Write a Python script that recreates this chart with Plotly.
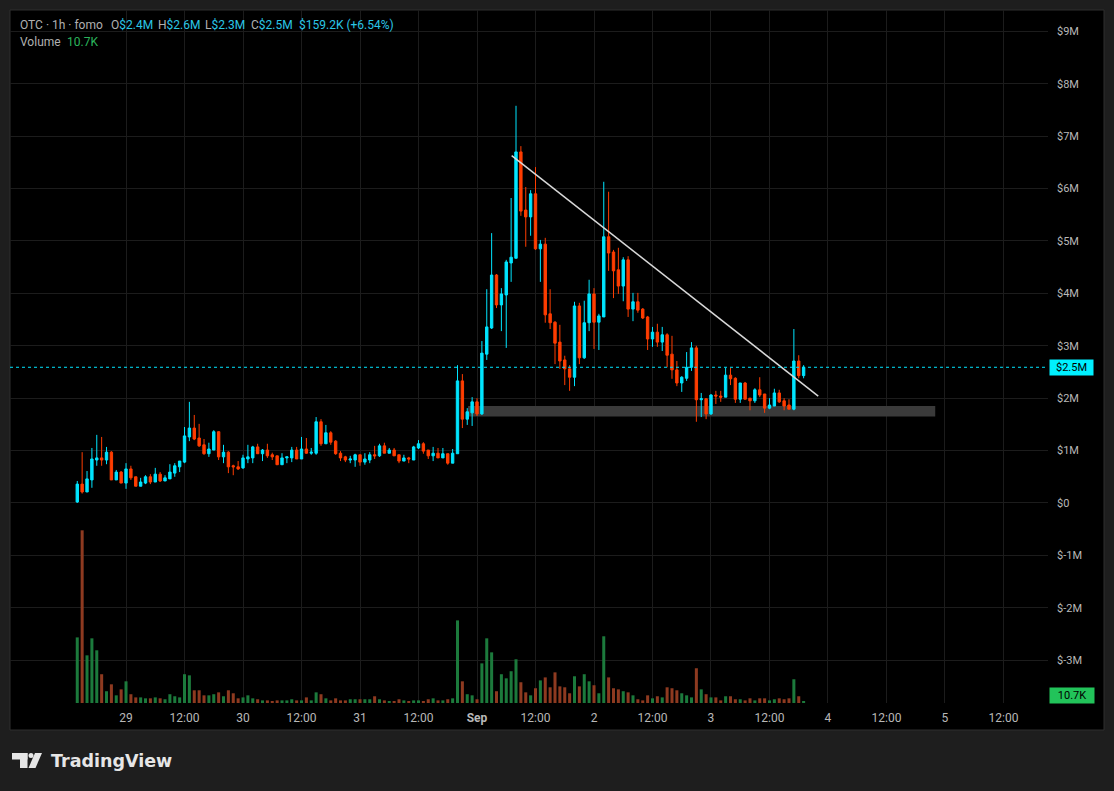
import pandas as pd
import plotly.graph_objects as go

# ---------------- data (values in $M, volume in K) ----------------
start_time = "2024-08-28 14:00"
open_ = [0.02, 0.36, 0.21, 0.44, 0.82, 0.86, 0.82, 0.97, 0.44, 0.59,
         0.38, 0.65, 0.50, 0.32, 0.38, 0.50, 0.40, 0.55, 0.42, 0.46,
         0.57, 0.69, 0.78, 1.26, 1.43, 1.24, 1.11, 0.94, 1.01, 1.36,
         0.88, 0.97, 0.71, 0.69, 0.67, 0.84, 0.86, 1.07, 0.94, 1.01,
         0.92, 0.90, 0.73, 0.86, 0.86, 1.01, 0.84, 1.03, 0.95, 0.95,
         1.55, 1.13, 1.34, 1.18, 0.95, 0.88, 0.82, 0.82, 0.92, 0.78,
         0.82, 0.92, 0.90, 1.09, 0.95, 1.01, 0.92, 0.80, 0.86, 0.82,
         1.05, 1.13, 1.01, 0.90, 0.95, 0.86, 0.94, 0.76, 0.94, 2.33,
         1.60, 1.72, 1.93, 1.70, 2.84, 3.34, 4.35, 3.78, 3.97, 4.58,
         4.67, 6.70, 5.59, 5.46, 5.90, 4.85, 4.94, 3.61, 3.45, 3.07,
         2.73, 2.56, 2.40, 3.76, 2.77, 3.44, 3.99, 3.45, 3.55, 5.08,
         4.79, 4.45, 4.14, 4.64, 3.70, 3.84, 3.70, 3.55, 3.13, 3.26,
         3.07, 3.21, 2.84, 2.54, 2.29, 2.38, 2.59, 2.96, 1.97, 1.99,
         1.70, 2.06, 2.04, 2.02, 2.44, 2.38, 1.98, 2.29, 2.00, 1.95,
         2.16, 2.08, 1.81, 1.85, 2.10, 1.95, 1.87, 1.79, 2.71, 2.43]
high_ = [0.42, 0.97, 0.61, 1.05, 1.30, 1.26, 1.07, 0.99, 0.63, 0.61,
         0.76, 0.71, 0.50, 0.48, 0.53, 0.55, 0.67, 0.59, 0.53, 0.74,
         0.76, 0.80, 1.45, 1.93, 1.68, 1.51, 1.22, 1.15, 1.39, 1.37,
         1.11, 0.99, 0.73, 0.80, 0.92, 1.11, 1.09, 1.13, 1.03, 1.13,
         0.96, 0.90, 0.95, 0.88, 1.07, 1.07, 1.26, 1.24, 1.05, 1.64,
         1.60, 1.49, 1.37, 1.20, 0.99, 0.90, 0.90, 0.94, 0.92, 0.95,
         0.97, 1.09, 1.13, 1.15, 1.05, 1.05, 0.92, 0.92, 0.88, 1.09,
         1.20, 1.16, 1.01, 1.07, 1.05, 1.05, 0.94, 1.03, 2.63, 2.46,
         1.81, 2.02, 2.00, 3.09, 4.08, 5.15, 4.37, 4.10, 4.64, 5.82,
         7.58, 6.81, 6.03, 5.97, 6.41, 5.02, 5.06, 4.08, 3.47, 3.40,
         2.81, 2.63, 3.84, 3.82, 3.86, 4.26, 4.10, 3.61, 6.13, 5.94,
         4.83, 4.87, 4.69, 4.71, 4.01, 4.01, 3.72, 3.57, 3.36, 3.42,
         3.36, 3.24, 3.19, 2.71, 2.42, 2.88, 3.07, 3.00, 2.10, 1.99,
         2.08, 2.14, 2.14, 2.58, 2.58, 2.40, 2.29, 2.31, 2.00, 2.19,
         2.40, 2.08, 2.00, 2.18, 2.16, 2.00, 1.98, 3.32, 2.82, 2.63]
low_ = [0.00, 0.18, 0.21, 0.29, 0.71, 0.71, 0.74, 0.44, 0.44, 0.38,
        0.27, 0.44, 0.32, 0.32, 0.36, 0.36, 0.40, 0.40, 0.42, 0.46,
        0.50, 0.59, 0.76, 1.18, 1.20, 1.07, 0.92, 0.88, 1.01, 0.82,
        0.76, 0.57, 0.53, 0.63, 0.65, 0.76, 0.76, 0.94, 0.80, 0.86,
        0.82, 0.73, 0.73, 0.76, 0.78, 0.84, 0.84, 0.94, 0.92, 0.92,
        1.09, 1.13, 1.11, 0.92, 0.80, 0.78, 0.76, 0.69, 0.71, 0.73,
        0.76, 0.84, 0.88, 0.95, 0.95, 0.90, 0.76, 0.80, 0.76, 0.82,
        1.03, 0.94, 0.84, 0.80, 0.86, 0.86, 0.73, 0.76, 0.94, 1.43,
        1.49, 1.47, 1.66, 1.68, 2.73, 3.32, 3.72, 3.28, 2.96, 4.22,
        4.67, 5.48, 4.89, 5.10, 4.83, 4.22, 3.44, 3.32, 2.65, 2.56,
        2.25, 2.14, 2.23, 2.65, 2.75, 3.28, 2.94, 2.92, 3.55, 4.43,
        3.91, 3.99, 3.85, 3.55, 3.47, 3.63, 3.51, 2.92, 2.98, 2.98,
        2.90, 2.59, 2.37, 2.23, 2.12, 2.33, 2.52, 1.55, 1.64, 1.60,
        1.68, 1.89, 1.93, 2.02, 2.25, 1.91, 1.91, 1.98, 1.77, 1.91,
        2.02, 1.72, 1.79, 1.85, 1.91, 1.77, 1.79, 1.77, 2.38, 2.38]
close_ = [0.36, 0.21, 0.46, 0.84, 0.86, 0.82, 0.97, 0.44, 0.59, 0.38,
          0.65, 0.48, 0.32, 0.40, 0.50, 0.40, 0.55, 0.42, 0.48, 0.59,
          0.71, 0.80, 1.28, 1.43, 1.22, 1.09, 0.94, 1.03, 1.36, 0.88,
          0.97, 0.69, 0.69, 0.65, 0.86, 0.88, 1.07, 0.94, 1.01, 0.90,
          0.88, 0.73, 0.86, 0.88, 1.01, 0.84, 1.03, 0.95, 0.97, 1.55,
          1.13, 1.34, 1.16, 0.94, 0.86, 0.82, 0.84, 0.92, 0.78, 0.84,
          0.92, 0.90, 1.09, 0.95, 1.01, 0.90, 0.80, 0.86, 0.84, 1.07,
          1.13, 0.99, 0.90, 0.95, 0.86, 0.94, 0.76, 0.95, 2.33, 1.60,
          1.74, 1.93, 1.70, 2.86, 3.36, 4.35, 3.78, 3.99, 4.60, 4.69,
          6.70, 5.57, 5.46, 5.90, 4.85, 4.94, 3.59, 3.44, 3.05, 2.71,
          2.56, 2.40, 3.76, 2.77, 3.44, 3.99, 3.45, 3.57, 5.08, 4.77,
          4.43, 4.14, 4.64, 3.70, 3.84, 3.68, 3.53, 3.13, 3.26, 3.07,
          3.21, 2.82, 2.54, 2.29, 2.40, 2.59, 2.96, 1.97, 1.99, 1.70,
          2.06, 2.04, 2.02, 2.44, 2.37, 1.98, 2.29, 1.98, 1.95, 2.16,
          2.06, 1.81, 1.87, 2.10, 1.93, 1.85, 1.79, 2.71, 2.43, 2.59]
volume_k = [351, 924, 255, 346, 282, 154, 63, 100, 41, 73,
            116, 47, 30, 30, 25, 25, 30, 25, 20, 47,
            36, 30, 154, 148, 68, 68, 41, 41, 47, 57,
            36, 68, 52, 25, 30, 41, 25, 20, 14, 14,
            9, 14, 14, 14, 20, 14, 14, 30, 14, 57,
            47, 25, 14, 25, 14, 14, 20, 20, 20, 20,
            20, 36, 20, 14, 9, 9, 20, 14, 9, 14,
            14, 9, 20, 25, 14, 14, 20, 25, 442, 116,
            47, 41, 20, 212, 346, 271, 63, 154, 132, 170,
            234, 111, 57, 41, 79, 121, 137, 84, 164, 89,
            84, 52, 143, 89, 154, 116, 95, 52, 357, 137,
            79, 73, 63, 57, 41, 20, 14, 41, 25, 36,
            30, 84, 79, 68, 52, 41, 30, 186, 73, 47,
            30, 30, 14, 36, 36, 20, 20, 14, 25, 14,
            25, 25, 14, 20, 25, 20, 25, 127, 36, 10.7]

y_tick_values = [9, 8, 7, 6, 5, 4, 3, 2, 1, 0, -1, -2, -3]
y_tick_labels = ["$9M", "$8M", "$7M", "$6M", "$5M", "$4M", "$3M", "$2M", "$1M",
                 "$0", "$-1M", "$-2M", "$-3M"]
x_tick_values = ["2024-08-29 00:00", "2024-08-29 12:00", "2024-08-30 00:00",
                 "2024-08-30 12:00", "2024-08-31 00:00", "2024-08-31 12:00",
                 "2024-09-01 00:00", "2024-09-01 12:00", "2024-09-02 00:00",
                 "2024-09-02 12:00", "2024-09-03 00:00", "2024-09-03 12:00",
                 "2024-09-04 00:00", "2024-09-04 12:00", "2024-09-05 00:00",
                 "2024-09-05 12:00"]
x_tick_labels = ["29", "12:00", "30", "12:00", "31", "12:00", "<b>Sep</b>", "12:00",
                 "2", "12:00", "3", "12:00", "4", "12:00", "5", "12:00"]

# user drawings
trend_x = ["2024-09-01 07:07", "2024-09-03 22:00"]
trend_y = [6.63, 2.04]
zone_x = ["2024-08-31 22:10", "2024-09-04 22:00"]
zone_y = [1.65, 1.85]

header_values = {"O": "$2.4M", "H": "$2.6M", "L": "$2.3M", "C": "$2.5M"}
header_change = "$159.2K (+6.54%)"
volume_label = "10.7K"
price_label = "$2.5M"

# ---------------- styling ----------------
UP = "#00e5ff"
DOWN = "#ff3d00"
VOL_UP = "#1c7a3c"
VOL_DOWN = "#8e3a20"
GRID = "#1c1c1c"
TXT = "#b8b8b8"
FONT = "Roboto"

times = pd.date_range(start_time, periods=len(open_), freq="h")
vol_colors = [VOL_UP if c >= o else VOL_DOWN for o, c in zip(open_, close_)]

W, H = 1114, 791
L, R, T, B = 10, 1048, 10, 703


def px(x):
    return (x - L) / (R - L)


def py(y):
    return (B - y) / (B - T)


fig = go.Figure()

fig.add_trace(go.Bar(
    x=times, y=volume_k, marker_color=vol_colors, marker_line_width=0,
    width=0.62 * 3600 * 1000, yaxis="y2", hoverinfo="skip", showlegend=False))

fig.add_trace(go.Candlestick(
    x=times, open=open_, high=high_, low=low_, close=close_,
    increasing=dict(line=dict(color=UP, width=1), fillcolor=UP),
    decreasing=dict(line=dict(color=DOWN, width=1), fillcolor=DOWN),
    whiskerwidth=0, showlegend=False))

fig.add_trace(go.Scatter(
    x=trend_x, y=trend_y, mode="lines", line=dict(color="#d9d9d9", width=1.5),
    hoverinfo="skip", showlegend=False))

shapes = [
    # dark panel
    dict(type="rect", xref="paper", yref="paper", x0=px(10), x1=px(1104),
         y0=py(730), y1=py(10), fillcolor="#000000",
         line=dict(color="#2e2e2e", width=1), layer="below"),
    # support zone
    dict(type="rect", xref="x", yref="y", x0=zone_x[0], x1=zone_x[1],
         y0=zone_y[0], y1=zone_y[1], fillcolor="#3a3a3a", line=dict(width=0),
         layer="between"),
    # last price line
    dict(type="line", xref="paper", yref="y", x0=0, x1=1,
         y0=close_[-1], y1=close_[-1], line=dict(color=UP, width=1, dash="dot")),
    # TradingView logo
    dict(type="rect", xref="paper", yref="paper", x0=px(12), x1=px(27.5),
         y0=py(759.5), y1=py(753), fillcolor="#e6e6e6", line=dict(width=0)),
    dict(type="rect", xref="paper", yref="paper", x0=px(20), x1=px(27.5),
         y0=py(768), y1=py(753), fillcolor="#e6e6e6", line=dict(width=0)),
    dict(type="circle", xref="paper", yref="paper", x0=px(28.5), x1=px(33.5),
         y0=py(758), y1=py(753), fillcolor="#e6e6e6", line=dict(width=0)),
    dict(type="path", xref="paper", yref="paper",
         path="M {} {} L {} {} L {} {} L {} {} Z".format(
             px(35), py(753), px(42), py(753), px(35.5), py(768), px(28.5), py(768)),
         fillcolor="#e6e6e6", line=dict(width=0)),
]

cyan_txt = "#2bc6e6"
grey_txt = "#b0b0b0"
ann = []


def add_text(text, x, y, color, size=12, family=FONT, **kw):
    ann.append(dict(text=text, x=px(x), y=py(y), xref="paper", yref="paper",
                    xanchor="left", yanchor="middle", showarrow=False,
                    font=dict(family=family, size=size, color=color), **kw))


add_text("OTC · 1h · fomo", 18, 25, grey_txt)
for key, xpos in zip(["O", "H", "L", "C"], [109, 156, 202.5, 249]):
    add_text(f"{key}<span style='color:{cyan_txt}'>{header_values[key]}</span>",
             xpos, 25, grey_txt)
add_text(header_change, 297, 25, cyan_txt)
add_text("Volume", 18, 42, grey_txt)
add_text(volume_label, 65, 42, "#2bb45c")
add_text("<b>TradingView</b>", 49, 761, "#e6e6e6", size=17.5, family="DejaVu Sans")

# price axis labels
ann.append(dict(text=price_label, x=px(1049), y=close_[-1], xref="paper", yref="y",
                xanchor="left", yanchor="middle", showarrow=False,
                bgcolor="#00f0ff", width=41, height=13, borderpad=1,
                font=dict(family=FONT, size=11, color="#000000")))
ann.append(dict(text=volume_label, x=px(1049), y=py(695.5), xref="paper", yref="paper",
                xanchor="left", yanchor="middle", showarrow=False,
                bgcolor="#22c35a", width=42, height=13, borderpad=1,
                font=dict(family=FONT, size=11, color="#000000")))

fig.update_layout(
    width=W, height=H, autosize=False,
    margin=dict(l=L, r=W - R, t=T, b=H - B),
    paper_bgcolor="#1e1e1e", plot_bgcolor="#000000",
    showlegend=False, hovermode=False,
    shapes=shapes, annotations=ann,
    xaxis=dict(type="date", range=["2024-08-28 00:12", "2024-09-05 21:08"],
               tickvals=x_tick_values, ticktext=x_tick_labels,
               showgrid=True, gridcolor=GRID, gridwidth=1, zeroline=False,
               showline=False, ticks="", ticklabelstandoff=6,
               tickfont=dict(family=FONT, size=12, color=TXT),
               rangeslider=dict(visible=False), fixedrange=True),
    yaxis=dict(range=[-3.817, 9.408], side="right", tickvals=y_tick_values,
               ticktext=y_tick_labels, showgrid=True, gridcolor=GRID,
               zeroline=False, showline=False, ticks="", ticklabelstandoff=8,
               tickfont=dict(family=FONT, size=11, color=TXT), fixedrange=True),
    yaxis2=dict(range=[0, 3708], overlaying="y", side="right", visible=False,
                showgrid=False, fixedrange=True),
)

fig.write_html(
    "out.html", config={"displayModeBar": False},
    post_script="document.body.style.margin='0';document.body.style.background='#1e1e1e';")
